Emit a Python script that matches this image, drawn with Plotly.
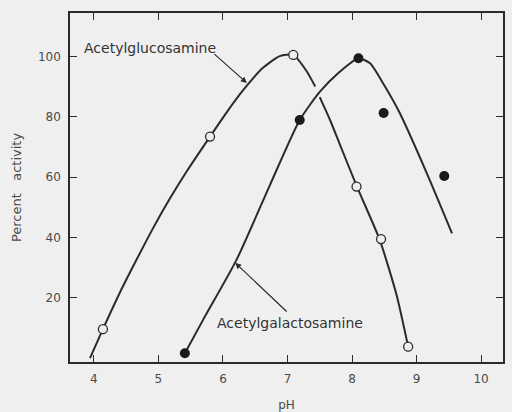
import plotly.graph_objects as go

# measured points
glc_ph = [4.14, 5.80, 7.09, 8.07, 8.45, 8.87]
glc_act = [9.6, 73.5, 100.6, 56.9, 39.5, 3.8]
gal_ph = [5.41, 7.19, 8.10, 8.49, 9.43]
gal_act = [1.6, 79.0, 99.5, 81.3, 60.4]

# hand-drawn fitted curves
glc_curve_ph_a = [3.94, 4.14, 4.40, 4.66, 4.92, 5.18, 5.44, 5.80, 6.05, 6.31, 6.62, 6.88, 7.09, 7.30, 7.43]
glc_curve_act_a = [0, 9.6, 21.6, 32.6, 43.2, 53.0, 62.0, 73.5, 81.3, 88.8, 96.3, 100.2, 100.6, 95.1, 90.1]
glc_curve_ph_b = [7.50, 7.66, 7.81, 8.07, 8.43, 8.69, 8.87]
glc_curve_act_b = [86.6, 79.0, 71.0, 57.2, 39.2, 21.0, 3.8]
gal_curve_ph = [5.41, 5.69, 6.21, 6.73, 7.19, 7.50, 7.81, 8.10, 8.28, 8.50, 8.74, 9.16, 9.55]
gal_curve_act = [1.6, 12.6, 32.6, 57.5, 79.0, 88.3, 95.0, 99.5, 97.8, 90.5, 81.3, 61.3, 41.4]

x_ticks = [4, 5, 6, 7, 8, 9, 10]
y_ticks = [20, 40, 60, 80, 100]

line_col = "#2b2b2b"
txt_col = "#4a4a4a"
bg = "#efefef"
font_main = "DejaVu Sans"

fig = go.Figure()
for xs, ys in [(glc_curve_ph_a, glc_curve_act_a), (glc_curve_ph_b, glc_curve_act_b),
               (gal_curve_ph, gal_curve_act)]:
    fig.add_trace(go.Scatter(x=xs, y=ys, mode="lines",
                             line=dict(color=line_col, width=2, shape="spline", smoothing=0.6),
                             showlegend=False, hoverinfo="skip"))

fig.add_trace(go.Scatter(x=glc_ph, y=glc_act, mode="markers",
                         marker=dict(symbol="circle", size=9, color=bg, line=dict(color=line_col, width=1.3)),
                         showlegend=False))
fig.add_trace(go.Scatter(x=gal_ph, y=gal_act, mode="markers",
                         marker=dict(symbol="circle", size=10, color="#1a1a1a", line=dict(color="#1a1a1a", width=0)),
                         showlegend=False))

fig.add_annotation(x=6.37, y=91.3, ax=5.845, ay=101.3, axref="x", ayref="y",
                   xref="x", yref="y", showarrow=True, arrowhead=2, arrowsize=1, arrowwidth=1.2,
                   arrowcolor=line_col, text="")
fig.add_annotation(x=6.19, y=31.6, ax=7.01, ay=15.0, axref="x", ayref="y",
                   xref="x", yref="y", showarrow=True, arrowhead=2, arrowsize=1, arrowwidth=1.2,
                   arrowcolor=line_col, text="")
fig.add_annotation(x=3.81, y=102.9, xref="x", yref="y", xanchor="left", yanchor="middle",
                   text="Acetylglucosamine", showarrow=False,
                   font=dict(family=font_main, size=14, color="#333"))
fig.add_annotation(x=5.88, y=11.65, xref="x", yref="y", xanchor="left", yanchor="middle",
                   text="Acetylgalactosamine", showarrow=False,
                   font=dict(family=font_main, size=14, color="#333"))

axis_common = dict(showline=True, linecolor=line_col, linewidth=1.5, mirror="ticks",
                   ticks="inside", ticklen=7, tickwidth=1.3, tickcolor=line_col,
                   showgrid=False, zeroline=False, automargin=False,
                   tickfont=dict(family=font_main, size=12, color=txt_col))

fig.update_layout(
    width=512, height=412,
    margin=dict(l=70, r=9, t=13, b=50),
    paper_bgcolor=bg, plot_bgcolor=bg,
    xaxis=dict(range=[3.63, 10.34], tickvals=x_ticks, ticktext=[str(v) for v in x_ticks],
               ticklabelstandoff=5,
               title=dict(text="pH", font=dict(family=font_main, size=12, color=txt_col), standoff=17),
               **axis_common),
    yaxis=dict(range=[-1.3, 114.5], tickvals=y_ticks, ticktext=[str(v) for v in y_ticks],
               ticklabelstandoff=5,
               title=dict(text="Percent   activity", font=dict(family=font_main, size=13, color=txt_col), standoff=13),
               **axis_common),
)

fig.write_html("out.html", config={"displayModeBar": False},
               post_script="document.body.style.margin='0';document.body.style.background='#efefef';")
